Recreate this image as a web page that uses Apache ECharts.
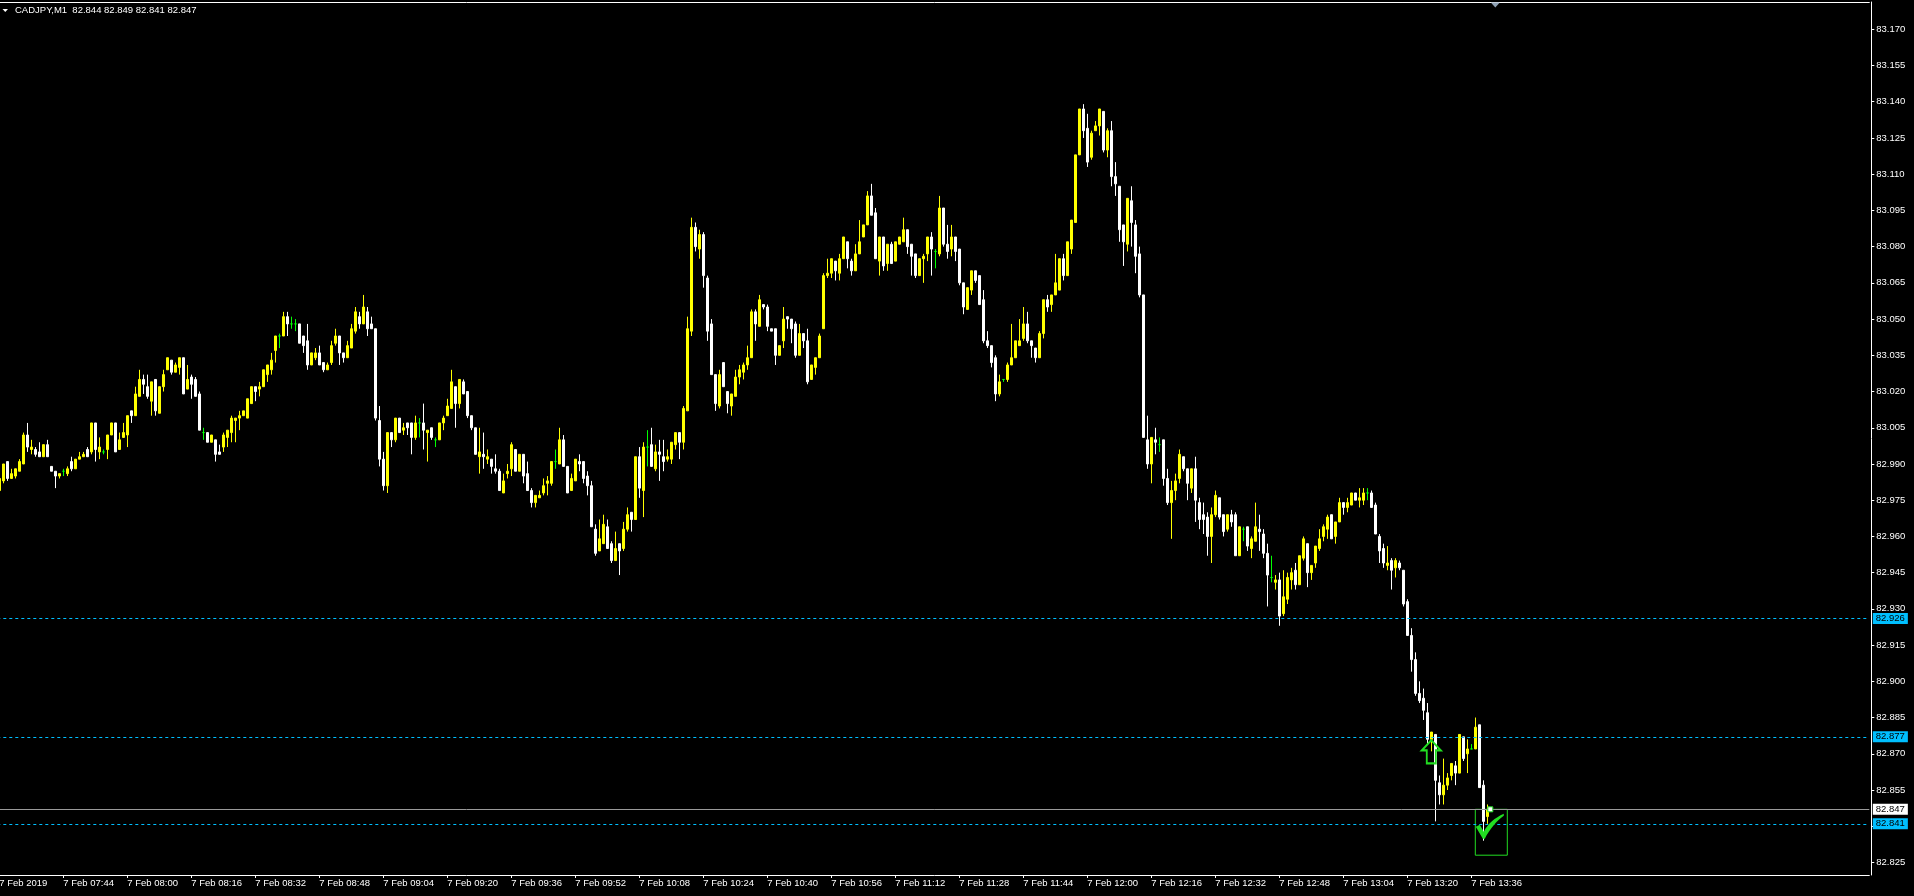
<!DOCTYPE html>
<html><head><meta charset="utf-8">
<script src="https://cdn.jsdelivr.net/npm/echarts@6/dist/echarts.min.js"></script>
<style>html,body{margin:0;padding:0;background:#000;overflow:hidden}#chart{width:1914px;height:896px}</style>
</head><body><div id="chart"></div>
<script>
// ---------- data ----------
const symbolName = 'CADJPY,M1';
const lastQuote = [82.844, 82.849, 82.841, 82.847]; // O H L C shown in the header
const firstBarMinute = 7 * 60 + 28;  // 07:28
const slotCount = 468;               // minute slots incl. empty chart shift
const dateLabel = '7 Feb 2019';
const dayPrefix = '7 Feb ';
const yRange = [82.8198, 83.1813];
const yTickValues = [82.825, 82.840, 82.855, 82.870, 82.885, 82.900, 82.915, 82.930, 82.945, 82.960, 82.975, 82.990, 83.005, 83.020, 83.035, 83.050, 83.065, 83.080, 83.095, 83.110, 83.125, 83.140, 83.155, 83.170];
const dashedLevels = [82.926, 82.877, 82.841];
const bidLevel = 82.847;
const buyArrow = [358, 82.876];
const resultBox = [[369, 82.847], [377, 82.828]];
const checkMark = [373, 82.840];
const lastMarker = [373, 82.847];
const shiftMarkerBar = 374;

// [open, close, low, high], one per minute from 07:28
const ohlc = [
[82.979,82.984,82.978,82.984],[82.983,82.990,82.982,82.990],[82.991,82.984,82.983,82.991],[82.984,82.986,82.984,82.988],[82.985,82.988,82.984,82.988],
[82.987,82.991,82.987,82.992],[82.990,83.002,82.990,83.003],[83.002,82.997,82.995,83.007],[82.996,82.997,82.994,83.000],[82.996,82.994,82.993,82.997],
[82.995,82.993,82.993,82.999],[82.993,82.998,82.993,82.998],[82.998,82.993,82.993,83.000],[82.989,82.987,82.987,82.989],[82.987,82.985,82.980,82.987],
[82.985,82.986,82.984,82.986],[82.987,82.987,82.985,82.988],[82.986,82.988,82.985,82.989],[82.991,82.988,82.987,82.993],[82.988,82.992,82.988,82.992],
[82.992,82.993,82.992,82.995],[82.993,82.994,82.993,82.995],[82.996,82.993,82.993,82.997],[82.995,83.007,82.994,83.007],[83.007,82.996,82.991,83.007],
[82.995,82.997,82.992,83.001],[82.995,82.995,82.994,82.996],[82.996,83.002,82.992,83.002],[83.002,83.007,83.002,83.007],[83.007,82.995,82.995,83.007],
[82.996,83.000,82.996,83.003],[83.001,83.003,83.001,83.007],[83.002,83.010,82.997,83.010],[83.012,83.010,83.007,83.012],[83.010,83.019,83.010,83.022],
[83.018,83.025,83.018,83.029],[83.025,83.023,83.019,83.027],[83.022,83.018,83.017,83.027],[83.016,83.024,83.010,83.024],[83.025,83.012,83.010,83.025],
[83.011,83.022,83.011,83.022],[83.022,83.027,83.020,83.029],[83.029,83.034,83.029,83.034],[83.033,83.028,83.027,83.033],[83.028,83.031,83.028,83.032],
[83.030,83.034,83.027,83.034],[83.034,83.019,83.019,83.034],[83.021,83.025,83.021,83.031],[83.026,83.023,83.017,83.027],[83.025,83.018,83.018,83.026],
[83.019,83.004,83.004,83.020],[83.003,83.003,83.000,83.005],[83.003,82.999,82.999,83.003],[82.999,83.002,82.999,83.002],[83.000,82.994,82.991,83.000],
[82.995,82.994,82.994,82.998],[82.997,83.002,82.995,83.003],[83.001,83.004,82.997,83.004],[83.003,83.009,82.999,83.010],[83.008,83.009,82.999,83.009],
[83.009,83.010,83.004,83.012],[83.010,83.012,83.010,83.012],[83.009,83.017,83.009,83.017],[83.015,83.022,83.015,83.022],[83.022,83.020,83.016,83.022],
[83.021,83.022,83.018,83.024],[83.022,83.029,83.022,83.029],[83.027,83.031,83.024,83.031],[83.029,83.033,83.027,83.036],[83.037,83.043,83.032,83.043],
[83.043,83.043,83.038,83.044],[83.043,83.051,83.043,83.053],[83.051,83.048,83.043,83.053],[83.048,83.048,83.046,83.051],[83.048,83.048,83.045,83.050],
[83.048,83.040,83.040,83.048],[83.043,83.039,83.036,83.043],[83.041,83.031,83.029,83.048],[83.031,83.036,83.031,83.036],[83.034,83.036,83.033,83.038],
[83.036,83.031,83.031,83.039],[83.032,83.029,83.028,83.032],[83.029,83.031,83.029,83.032],[83.032,83.039,83.031,83.041],[83.040,83.043,83.039,83.046],
[83.043,83.036,83.031,83.043],[83.036,83.034,83.032,83.036],[83.034,83.039,83.034,83.041],[83.038,83.046,83.038,83.048],[83.045,83.053,83.044,83.055],
[83.051,83.048,83.046,83.053],[83.048,83.055,83.048,83.060],[83.053,83.046,83.043,83.055],[83.048,83.046,83.046,83.051],[83.046,83.009,83.008,83.046],
[83.008,82.992,82.989,83.014],[82.992,82.981,82.979,82.995],[82.981,83.003,82.978,83.003],[83.003,83.000,82.997,83.003],[83.000,83.009,82.999,83.009],
[83.009,83.003,83.003,83.009],[83.004,83.005,83.002,83.007],[83.007,83.005,83.002,83.007],[83.007,83.001,82.994,83.007],[83.001,83.007,83.000,83.010],
[83.007,83.007,83.001,83.009],[83.007,83.004,82.996,83.015],[83.003,83.004,82.991,83.004],[83.005,83.001,83.000,83.005],[83.000,83.000,82.997,83.001],
[83.000,83.007,83.000,83.007],[83.007,83.009,83.004,83.010],[83.010,83.014,83.010,83.017],[83.013,83.024,83.013,83.029],[83.022,83.015,83.005,83.022],
[83.015,83.025,83.013,83.025],[83.024,83.019,83.019,83.025],[83.020,83.010,83.009,83.020],[83.010,83.005,83.004,83.010],[83.005,82.994,82.994,83.005],
[82.993,82.995,82.986,83.005],[82.994,82.993,82.988,83.003],[82.992,82.993,82.990,82.996],[82.992,82.989,82.986,82.992],[82.988,82.987,82.986,82.994],
[82.987,82.979,82.979,82.988],[82.978,82.983,82.978,82.986],[82.986,82.987,82.984,82.990],[82.988,82.998,82.985,82.999],[82.996,82.987,82.987,82.996],
[82.987,82.994,82.987,82.994],[82.994,82.985,82.982,82.994],[82.986,82.979,82.979,82.991],[82.979,82.974,82.972,82.980],[82.974,82.977,82.972,82.977],
[82.976,82.977,82.976,82.979],[82.978,82.981,82.977,82.984],[82.982,82.983,82.977,82.985],[82.982,82.991,82.981,82.991],[82.991,82.991,82.988,82.996],
[82.990,83.000,82.990,83.005],[83.000,82.989,82.989,83.002],[82.989,82.978,82.978,82.989],[82.979,82.984,82.979,82.986],[82.983,82.992,82.983,82.992],
[82.991,82.990,82.987,82.994],[82.991,82.984,82.982,82.991],[82.985,82.981,82.977,82.987],[82.981,82.964,82.964,82.983],[82.963,82.953,82.952,82.965],
[82.954,82.959,82.954,82.967],[82.957,82.965,82.957,82.969],[82.964,82.955,82.955,82.967],[82.957,82.950,82.949,82.958],[82.950,82.955,82.950,82.962],
[82.957,82.954,82.944,82.957],[82.955,82.963,82.954,82.966],[82.963,82.969,82.962,82.972],[82.970,82.967,82.962,82.970],[82.967,82.993,82.967,82.993],
[82.993,82.980,82.976,82.997],[82.979,82.997,82.968,82.999],[82.997,82.997,82.989,83.004],[82.998,82.989,82.989,83.005],[82.988,82.995,82.987,82.998],
[82.995,82.994,82.983,83.000],[82.993,82.991,82.987,83.000],[82.992,82.993,82.991,82.996],[82.992,82.999,82.990,82.999],[82.998,83.003,82.996,83.003],
[83.003,82.999,82.992,83.003],[82.999,83.013,82.996,83.014],[83.012,83.046,83.012,83.051],[83.045,83.088,83.043,83.092],[83.088,83.080,83.078,83.090],
[83.079,83.085,83.075,83.087],[83.085,83.068,83.063,83.086],[83.067,83.045,83.041,83.068],[83.048,83.027,83.027,83.050],[83.027,83.015,83.012,83.027],
[83.014,83.027,83.013,83.029],[83.032,83.022,83.022,83.032],[83.020,83.015,83.011,83.020],[83.014,83.019,83.010,83.019],[83.018,83.026,83.018,83.029],
[83.026,83.029,83.023,83.031],[83.028,83.031,83.025,83.032],[83.031,83.034,83.029,83.039],[83.034,83.053,83.034,83.054],[83.053,83.048,83.041,83.054],
[83.047,83.058,83.047,83.060],[83.056,83.055,83.054,83.056],[83.055,83.047,83.045,83.056],[83.046,83.045,83.045,83.046],[83.046,83.035,83.031,83.046],
[83.035,83.039,83.035,83.039],[83.041,83.050,83.038,83.055],[83.051,83.050,83.046,83.051],[83.050,83.046,83.040,83.050],[83.048,83.035,83.034,83.049],
[83.035,83.044,83.035,83.048],[83.044,83.041,83.038,83.044],[83.041,83.024,83.023,83.046],[83.025,83.031,83.025,83.031],[83.030,83.034,83.027,83.034],
[83.034,83.043,83.034,83.044],[83.046,83.068,83.046,83.069],[83.068,83.069,83.067,83.075],[83.069,83.075,83.067,83.075],[83.074,83.070,83.066,83.074],
[83.069,83.075,83.066,83.077],[83.075,83.084,83.075,83.084],[83.082,83.075,83.071,83.082],[83.074,83.070,83.068,83.075],[83.070,83.077,83.070,83.081],
[83.077,83.082,83.077,83.091],[83.084,83.089,83.084,83.089],[83.089,83.101,83.089,83.103],[83.101,83.093,83.093,83.106],[83.094,83.075,83.075,83.096],
[83.074,83.084,83.068,83.084],[83.084,83.072,83.070,83.084],[83.073,83.081,83.070,83.081],[83.081,83.073,83.073,83.082],[83.074,83.082,83.074,83.082],
[83.081,83.084,83.081,83.084],[83.082,83.087,83.082,83.092],[83.087,83.080,83.077,83.087],[83.081,83.076,83.068,83.081],[83.077,83.068,83.067,83.077],
[83.068,83.075,83.068,83.075],[83.075,83.076,83.065,83.077],[83.077,83.084,83.074,83.084],[83.084,83.079,83.068,83.086],[83.078,83.078,83.071,83.079],
[83.077,83.096,83.076,83.101],[83.096,83.081,83.080,83.096],[83.081,83.078,83.075,83.089],[83.079,83.084,83.076,83.089],[83.084,83.078,83.074,83.084],
[83.079,83.065,83.064,83.079],[83.065,83.055,83.052,83.065],[83.054,83.063,83.054,83.063],[83.062,83.070,83.060,83.070],[83.070,83.066,83.065,83.070],
[83.068,83.056,83.056,83.068],[83.058,83.041,83.040,83.062],[83.041,83.039,83.038,83.045],[83.039,83.032,83.030,83.039],[83.034,83.019,83.016,83.035],
[83.019,83.024,83.018,83.027],[83.025,83.025,83.024,83.025],[83.025,83.031,83.024,83.032],[83.031,83.034,83.031,83.048],[83.034,83.041,83.034,83.041],
[83.039,83.041,83.039,83.050],[83.042,83.048,83.041,83.055],[83.048,83.041,83.040,83.053],[83.041,83.039,83.034,83.041],[83.038,83.034,83.032,83.038],
[83.034,83.044,83.034,83.045],[83.044,83.058,83.042,83.058],[83.058,83.055,83.053,83.060],[83.056,83.060,83.053,83.060],[83.060,83.065,83.060,83.077],
[83.062,83.075,83.062,83.075],[83.075,83.068,83.066,83.077],[83.068,83.082,83.068,83.082],[83.079,83.091,83.077,83.091],[83.090,83.118,83.090,83.118],
[83.118,83.137,83.118,83.137],[83.137,83.128,83.125,83.139],[83.129,83.115,83.113,83.135],[83.117,83.127,83.116,83.128],[83.128,83.130,83.128,83.132],
[83.130,83.137,83.126,83.137],[83.136,83.120,83.119,83.136],[83.120,83.128,83.117,83.129],[83.128,83.109,83.105,83.132],[83.109,83.106,83.101,83.115],
[83.105,83.087,83.082,83.105],[83.089,83.082,83.072,83.089],[83.081,83.100,83.078,83.100],[83.099,83.090,83.080,83.105],[83.089,83.076,83.069,83.091],
[83.077,83.060,83.059,83.080],[83.060,83.001,83.001,83.060],[83.000,82.990,82.988,83.010],[82.990,83.001,82.982,83.001],[83.000,82.999,82.994,83.005],
[82.998,82.998,82.995,83.001],[83.000,82.984,82.981,83.000],[82.984,82.974,82.973,82.988],[82.974,82.979,82.959,82.983],[82.979,82.983,82.975,82.986],
[82.984,82.994,82.982,82.996],[82.993,82.988,82.987,82.993],[82.988,82.982,82.975,82.988],[82.980,82.988,82.978,82.988],[82.988,82.975,82.966,82.993],
[82.974,82.967,82.963,82.976],[82.969,82.967,82.961,82.974],[82.968,82.960,82.952,82.970],[82.960,82.969,82.949,82.972],[82.969,82.977,82.968,82.979],
[82.976,82.968,82.967,82.976],[82.969,82.962,82.960,82.969],[82.963,82.969,82.962,82.969],[82.969,82.966,82.964,82.971],[82.969,82.952,82.952,82.970],
[82.952,82.964,82.952,82.964],[82.963,82.963,82.958,82.964],[82.964,82.956,82.954,82.964],[82.955,82.959,82.951,82.960],[82.958,82.964,82.958,82.974],
[82.963,82.962,82.954,82.969],[82.961,82.953,82.951,82.963],[82.953,82.944,82.931,82.957],[82.943,82.943,82.941,82.952],[82.941,82.942,82.938,82.944],
[82.942,82.927,82.923,82.945],[82.928,82.935,82.927,82.946],[82.934,82.943,82.932,82.945],[82.942,82.945,82.938,82.947],[82.946,82.940,82.938,82.949],
[82.940,82.952,82.940,82.952],[82.951,82.959,82.950,82.960],[82.957,82.945,82.939,82.957],[82.945,82.948,82.942,82.948],[82.949,82.956,82.947,82.956],
[82.955,82.959,82.954,82.963],[82.960,82.964,82.958,82.965],[82.963,82.968,82.959,82.969],[82.969,82.959,82.959,82.969],[82.960,82.966,82.957,82.966],
[82.966,82.974,82.966,82.976],[82.974,82.972,82.969,82.974],[82.972,82.974,82.970,82.976],[82.973,82.978,82.973,82.978],[82.978,82.975,82.975,82.978],
[82.975,82.976,82.972,82.980],[82.975,82.978,82.973,82.980],[82.978,82.978,82.975,82.980],[82.978,82.972,82.972,82.979],[82.973,82.961,82.961,82.974],
[82.960,82.954,82.949,82.961],[82.955,82.949,82.947,82.957],[82.948,82.949,82.946,82.956],[82.950,82.946,82.938,82.951],[82.947,82.950,82.943,82.951],
[82.949,82.947,82.946,82.950],[82.946,82.932,82.931,82.946],[82.933,82.919,82.919,82.934],[82.919,82.909,82.904,82.922],[82.909,82.895,82.894,82.912],
[82.895,82.892,82.891,82.900],[82.893,82.888,82.884,82.897],[82.887,82.876,82.874,82.891],[82.876,82.879,82.871,82.879],[82.878,82.859,82.842,82.878],
[82.858,82.853,82.849,82.861],[82.853,82.857,82.849,82.868],[82.857,82.860,82.855,82.862],[82.861,82.866,82.859,82.866],[82.865,82.862,82.857,82.867],
[82.862,82.878,82.862,82.878],[82.877,82.868,82.867,82.877],[82.870,82.872,82.862,82.876],[82.872,82.872,82.872,82.874],[82.872,82.881,82.872,82.885],
[82.882,82.856,82.856,82.882],[82.857,82.842,82.834,82.859],[82.844,82.847,82.841,82.849]
];

// ---------- build ----------
const pad = n => (n < 10 ? '0' : '') + n;
const categories = Array.from({length: slotCount}, (_, k) => {
  const m = firstBarMinute + k;
  return pad(Math.floor(m / 60)) + ':' + pad(m % 60);
});
const lastBar = ohlc.length - 1;
const labelEvery = 16;
const showLabel = idx => idx % labelEvery === 0 && idx <= lastBar;

const normalData = ohlc.map(d => (d[0] === d[1] ? '-' : d));
const dojiData = ohlc.map(d => (d[0] === d[1] ? d : '-'));

const FONT = '"Liberation Sans", Arial, sans-serif';
const FS = 9.5;
const GREEN = '#22dd22';
const CYAN = '#00bfff';

const arrowPath = 'path://M10.5,0 L21,11 L15.5,11 L15.5,25 L5.5,25 L5.5,11 L0,11 Z';
const checkPath = 'path://M0,13 L4,11 L8,18 C12,10 19,4 28,0 L28,2 C21,7 14,15 9,25 L7,25 Z';

const levelLine = (v, lineColor, type, boxColor) => ({
  yAxis: v,
  lineStyle: {color: lineColor, type: type, width: 1},
  label: {
    show: true, position: 'end', distance: 3.5,
    formatter: () => v.toFixed(3),
    backgroundColor: boxColor, color: '#000',
    fontFamily: FONT, fontSize: FS, lineHeight: 10,
    padding: [1, 3, 0, 3]
  }
});

const chart = echarts.init(document.getElementById('chart'), null, {renderer: 'canvas'});
chart.setOption({
  backgroundColor: '#000',
  animation: false,
  graphic: [
    {type: 'polygon', shape: {points: [[2.5, 9], [8, 9], [5.25, 12]]}, style: {fill: '#ffffff'}, silent: true},
    {type: 'text', left: 15, top: 5, silent: true,
     style: {text: symbolName + '  ' + lastQuote.map(v => v.toFixed(3)).join(' '), fill: '#ffffff', font: FS + 'px ' + FONT}}
  ],
  grid: {left: -2.7, right: 44.7, top: 2, bottom: 21, show: false, containLabel: false, outerBoundsMode: 'none'},
  xAxis: [{
    type: 'category', data: categories, boundaryGap: true, position: 'bottom',
    axisLine: {show: true, onZero: false, lineStyle: {color: '#ffffff', width: 1}},
    axisTick: {show: true, length: 3, alignWithLabel: true, interval: idx => showLabel(idx), lineStyle: {color: '#ffffff'}},
    axisLabel: {
      show: true, interval: idx => showLabel(idx), align: 'left', margin: 3,
      color: '#ffffff', fontFamily: FONT, fontSize: FS,
      formatter: (val, idx) => (idx === 0 ? dateLabel : dayPrefix + val)
    },
    splitLine: {show: false}
  }, {
    type: 'category', data: categories, position: 'top',
    axisLine: {show: true, onZero: false, lineStyle: {color: '#ffffff', width: 1}},
    axisTick: {show: false}, axisLabel: {show: false}, splitLine: {show: false}
  }],
  yAxis: {
    type: 'value', position: 'right', offset: 2, min: yRange[0], max: yRange[1], scale: true,
    axisLine: {show: true, lineStyle: {color: '#ffffff', width: 1}},
    axisTick: {show: true, length: 3, customValues: yTickValues, lineStyle: {color: '#ffffff'}},
    axisLabel: {show: true, customValues: yTickValues, margin: 5, color: '#ffffff', fontFamily: FONT, fontSize: FS,
      formatter: v => Number(v).toFixed(3)},
    splitLine: {show: false}
  },
  series: [{
    type: 'candlestick', name: 'bars', data: normalData, barWidth: 2,
    itemStyle: {color: '#ffff00', color0: '#ffffff', borderColor: '#ffff00', borderColor0: '#ffffff', borderWidth: 1},
    emphasis: {disabled: true},
    markLine: {
      silent: true, symbol: ['none', 'none'], animation: false, precision: 4,
      data: [
        levelLine(dashedLevels[0], CYAN, [3, 3], CYAN),
        levelLine(dashedLevels[1], CYAN, [3, 3], CYAN),
        levelLine(dashedLevels[2], CYAN, [3, 3], CYAN),
        levelLine(bidLevel, '#9a9a9a', 'solid', '#ffffff')
      ]
    },
    markArea: {
      silent: true, precision: 4,
      itemStyle: {color: 'rgba(0,0,0,0)', borderColor: GREEN, borderWidth: 1},
      data: [[{coord: resultBox[0]}, {coord: resultBox[1]}]]
    },
    markPoint: {
      silent: true, label: {show: false}, animation: false, precision: 4,
      data: [
        {coord: buyArrow, symbol: arrowPath, symbolSize: [19, 23], symbolOffset: [0, 12.5],
         itemStyle: {color: 'rgba(0,0,0,0)', borderColor: GREEN, borderWidth: 2}},
        {coord: checkMark, symbol: checkPath, symbolSize: [28, 25], symbolOffset: [-1.5, 0],
         itemStyle: {color: GREEN}},
        {coord: lastMarker, symbol: 'rect', symbolSize: 5, symbolOffset: [-1, 0],
         itemStyle: {color: '#ffffff', borderColor: GREEN, borderWidth: 1}},
        {coord: [shiftMarkerBar, yRange[1]], symbol: 'triangle', symbolRotate: 180, symbolSize: [9, 5], symbolOffset: [0, 3],
         itemStyle: {color: '#8fa2b5'}}
      ]
    }
  }, {
    type: 'candlestick', name: 'doji', data: dojiData, barWidth: 2,
    itemStyle: {color: '#00ff00', color0: '#00ff00', borderColor: '#00ff00', borderColor0: '#00ff00', borderWidth: 1},
    emphasis: {disabled: true}
  }]
});
</script></body></html>
